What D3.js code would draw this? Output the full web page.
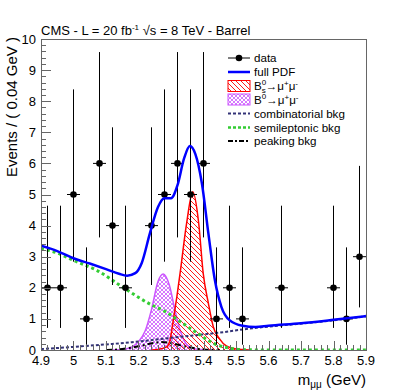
<!DOCTYPE html>
<html>
<head>
<meta charset="utf-8">
<script src="https://cdn.jsdelivr.net/npm/d3@7"></script>
<style>
  body { margin: 0; background: #fff; }
  svg { display: block; font-family: "Liberation Sans", Arial, sans-serif; }
</style>
</head>
<body>
<svg id="chart" width="407" height="391"></svg>
<script>
// data points (bin centres, counts, poisson errors)
var dataX = [4.92, 4.96, 5.00, 5.04, 5.08, 5.12, 5.16, 5.24, 5.28, 5.32, 5.36, 5.40, 5.44, 5.48, 5.52, 5.64, 5.80, 5.84, 5.88];
var dataN = [2, 2, 5, 1, 6, 4, 2, 4, 5, 6, 5, 6, 1, 2, 1, 2, 2, 1, 3];
var errLo = [1.29, 1.29, 2.16, 0.83, 2.38, 1.91, 1.29, 1.91, 2.16, 2.38, 2.16, 2.38, 0.83, 1.29, 0.83, 1.29, 1.29, 0.83, 1.63];
var errHi = [2.64, 2.64, 3.38, 2.30, 3.58, 3.16, 2.64, 3.16, 3.38, 3.58, 3.38, 3.58, 2.30, 2.64, 2.30, 2.64, 2.64, 2.30, 2.92];

// curves
var fullX = [4.9, 4.95, 5.0, 5.05, 5.1, 5.14, 5.165, 5.19, 5.21, 5.235, 5.26, 5.28, 5.30, 5.32, 5.34, 5.358, 5.375, 5.395, 5.415, 5.435, 5.455, 5.48, 5.52, 5.56, 5.6, 5.7, 5.8, 5.9];
var fullY = [3.35, 3.18, 2.95, 2.78, 2.6, 2.45, 2.39, 2.47, 2.8, 3.75, 4.6, 4.88, 4.88, 5.3, 6.15, 6.56, 6.3, 5.36, 3.75, 2.25, 1.39, 0.96, 0.78, 0.74, 0.78, 0.86, 0.97, 1.09];

var bsX = [5.24, 5.26, 5.287, 5.297, 5.307, 5.318, 5.328, 5.348, 5.367, 5.385, 5.399, 5.415, 5.43, 5.45, 5.47, 5.5, 5.54];
var bsY = [0, 0.02, 0.1, 0.32, 0.96, 1.71, 2.47, 4.07, 5.09, 4.1, 2.47, 1.5, 0.75, 0.35, 0.13, 0.03, 0];

var bdX = [5.12, 5.15, 5.18, 5.2, 5.22, 5.24, 5.26, 5.276, 5.295, 5.312, 5.328, 5.348, 5.37, 5.4, 5.43];
var bdY = [0, 0.02, 0.1, 0.27, 0.6, 1.3, 2.2, 2.44, 2.08, 1.29, 0.64, 0.18, 0.04, 0.01, 0];

var combX = [4.9, 5.0, 5.1, 5.18, 5.29, 5.37, 5.45, 5.55, 5.65, 5.76, 5.9];
var combY = [0.03, 0.1, 0.18, 0.25, 0.38, 0.47, 0.56, 0.7, 0.8, 0.91, 1.08];

var semiX = [4.9, 4.95, 5.0, 5.07, 5.16, 5.24, 5.28, 5.33, 5.38, 5.43, 5.48, 5.53, 5.6, 5.9];
var semiY = [3.26, 3.12, 2.88, 2.57, 1.96, 1.45, 1.25, 0.9, 0.55, 0.22, 0.06, 0.01, 0, 0];

var peakX = [5.1, 5.15, 5.2, 5.25, 5.27, 5.3, 5.35, 5.4, 5.45];
var peakY = [0, 0.03, 0.12, 0.23, 0.26, 0.22, 0.1, 0.02, 0];

var xTicks = [4.9, 5.0, 5.1, 5.2, 5.3, 5.4, 5.5, 5.6, 5.7, 5.8, 5.9];
var xTickLabels = ["4.9", "5", "5.1", "5.2", "5.3", "5.4", "5.5", "5.6", "5.7", "5.8", "5.9"];
var yTicks = [0, 1, 2, 3, 4, 5, 6, 7, 8, 9, 10];

(function () {
    var pl = 41, pr = 366, pt = 39, pb = 350;

    var svg = d3.select("#chart");
    var x = d3.scaleLinear().domain([4.9, 5.9]).range([pl, pr]);
    var y = d3.scaleLinear().domain([0, 10]).range([pb, pt]);

    var defs = svg.append("defs");
    var hatch = defs.append("pattern")
        .attr("id", "hatchRed").attr("patternUnits", "userSpaceOnUse")
        .attr("width", 5).attr("height", 5);
    hatch.append("path")
        .attr("d", "M0,0L5,5M-1,4L1,6M4,-1L6,1")
        .attr("stroke", "#ff0000").attr("stroke-width", 0.9);
    var cross = defs.append("pattern")
        .attr("id", "hatchViolet").attr("patternUnits", "userSpaceOnUse")
        .attr("width", 4).attr("height", 4);
    cross.append("path")
        .attr("d", "M0,0L4,4M-1,3L1,5M3,-1L5,1M0,4L4,0M-1,1L1,-1M3,5L5,3")
        .attr("stroke", "#cc55ff").attr("stroke-width", 0.8);

    defs.append("clipPath").attr("id", "plotClip")
        .append("rect").attr("x", pl).attr("y", pt)
        .attr("width", pr - pl).attr("height", pb - pt);

    var plot = svg.append("g").attr("clip-path", "url(#plotClip)");

    function pts(xs, ys) {
        return xs.map(function (d, i) { return [d, ys[i]]; });
    }
    var line = d3.line()
        .x(function (d) { return x(d[0]); })
        .y(function (d) { return y(d[1]); })
        .curve(d3.curveMonotoneX);
    var area = d3.area()
        .x(function (d) { return x(d[0]); })
        .y0(y(0))
        .y1(function (d) { return y(d[1]); })
        .curve(d3.curveMonotoneX);

    // signal shapes
    plot.append("path").attr("d", area(pts(bdX, bdY)))
        .attr("fill", "url(#hatchViolet)");
    plot.append("path").attr("d", line(pts(bdX, bdY)))
        .attr("fill", "none").attr("stroke", "#cc55ff").attr("stroke-width", 1.5);
    plot.append("path").attr("d", area(pts(bsX, bsY)))
        .attr("fill", "url(#hatchRed)");
    plot.append("path").attr("d", line(pts(bsX, bsY)))
        .attr("fill", "none").attr("stroke", "#ff0000").attr("stroke-width", 1.5);

    // background components
    plot.append("path").attr("d", line(pts(peakX, peakY)))
        .attr("fill", "none").attr("stroke", "#000")
        .attr("stroke-width", 2).attr("stroke-dasharray", "6,3,2,3");
    plot.append("path").attr("d", line(pts(combX, combY)))
        .attr("fill", "none").attr("stroke", "#333377")
        .attr("stroke-width", 2).attr("stroke-dasharray", "3,2");
    plot.append("path").attr("d", line(pts(semiX, semiY)))
        .attr("fill", "none").attr("stroke", "#33cc33")
        .attr("stroke-width", 3).attr("stroke-dasharray", "3,3");

    // data
    var g = plot.append("g").attr("stroke", "#000").attr("stroke-width", 1);
    dataX.forEach(function (d, i) {
        var n = dataN[i];
        g.append("line").attr("x1", x(d)).attr("x2", x(d))
            .attr("y1", y(n - errLo[i])).attr("y2", y(n + errHi[i]));
        g.append("line").attr("x1", x(d - 0.02)).attr("x2", x(d + 0.02))
            .attr("y1", y(n)).attr("y2", y(n));
        g.append("circle").attr("cx", x(d)).attr("cy", y(n)).attr("r", 3.3)
            .attr("fill", "#000").attr("stroke", "none");
    });

    plot.append("path").attr("d", line(pts(fullX, fullY)))
        .attr("fill", "none").attr("stroke", "#0000ff").attr("stroke-width", 2.5);

    // frame and ticks
    svg.append("rect").attr("x", pl + 0.5).attr("y", pt + 0.5)
        .attr("width", pr - pl).attr("height", pb - pt)
        .attr("fill", "none").attr("stroke", "#666").attr("stroke-width", 1);

    var ticks = svg.append("g").attr("stroke", "#666").attr("stroke-width", 1);
    d3.range(0, 10.01, 0.2).forEach(function (v) {
        var major = Math.abs(v - Math.round(v)) < 1e-6;
        ticks.append("line").attr("x1", pl).attr("x2", pl + (major ? 10 : 5))
            .attr("y1", Math.round(y(v)) + 0.5).attr("y2", Math.round(y(v)) + 0.5);
    });
    d3.range(4.9, 5.901, 0.02).forEach(function (v) {
        var k = Math.round((v - 4.9) / 0.02);
        var len = k % 5 === 0 ? 9 : 5;
        ticks.append("line").attr("x1", Math.round(x(v)) + 0.5).attr("x2", Math.round(x(v)) + 0.5)
            .attr("y1", pb).attr("y2", pb - len);
    });

    svg.append("g").selectAll("text").data(yTicks).join("text")
        .attr("x", 36).attr("y", function (d) { return y(d) + 4.5; })
        .attr("text-anchor", "end").attr("font-size", 13).text(function (d) { return d; });
    svg.append("g").selectAll("text").data(xTicks).join("text")
        .attr("x", function (d) { return x(d); }).attr("y", 365)
        .attr("text-anchor", "middle").attr("font-size", 13)
        .text(function (d, i) { return xTickLabels[i]; });

    // axis titles
    var xt = svg.append("text").attr("x", 366).attr("y", 385)
        .attr("text-anchor", "end").attr("font-size", 15);
    xt.append("tspan").text("m");
    xt.append("tspan").attr("font-size", 10).attr("dy", 3).text("μμ");
    xt.append("tspan").attr("dy", -3).text(" (GeV)");

    svg.append("text")
        .attr("transform", "translate(17,37) rotate(-90)")
        .attr("text-anchor", "end").attr("font-size", 15)
        .text("Events / ( 0.04 GeV )");

    var title = svg.append("text").attr("x", 41).attr("y", 35).attr("font-size", 13);
    title.append("tspan").text("CMS - L = 20 fb");
    title.append("tspan").attr("font-size", 8).attr("dy", -5).text("-1");
    title.append("tspan").attr("dy", 5).text(" √s = 8 TeV - Barrel");

    // legend
    var lg = svg.append("g").attr("font-size", 11.6);
    var lx0 = 228, lx1 = 250, tx = 254;
    var rows = [58, 72, 86, 99.5, 113.5, 127.5, 141];
    function label(i, parts) {
        var t = lg.append("text").attr("x", tx).attr("y", rows[i] + 4);
        parts.forEach(function (p) {
            t.append("tspan").attr("font-size", p[1] ? 8 : null)
                .attr("dy", p[2] || null).attr("dx", p[3] || null).text(p[0]);
        });
    }
    lg.append("line").attr("x1", lx0).attr("x2", lx1).attr("y1", rows[0]).attr("y2", rows[0])
        .attr("stroke", "#000");
    lg.append("circle").attr("cx", (lx0 + lx1) / 2).attr("cy", rows[0]).attr("r", 3.3);
    label(0, [["data"]]);
    lg.append("line").attr("x1", lx0).attr("x2", lx1).attr("y1", rows[1]).attr("y2", rows[1])
        .attr("stroke", "#0000ff").attr("stroke-width", 2.5);
    label(1, [["full PDF"]]);
    lg.append("rect").attr("x", lx0).attr("y", rows[2] - 5.5).attr("width", lx1 - lx0).attr("height", 11)
        .attr("fill", "url(#hatchRed)").attr("stroke", "#ff0000");
    label(2, [["B"], ["0", 1, -5], ["s", 1, 8, -4.5], ["→μ", 0, -3], ["+", 1, -4], ["μ", 0, 4], ["-", 1, -4]]);
    lg.append("rect").attr("x", lx0).attr("y", rows[3] - 5.5).attr("width", lx1 - lx0).attr("height", 11)
        .attr("fill", "url(#hatchViolet)").attr("stroke", "#cc55ff");
    label(3, [["B"], ["0", 1, -5], ["→μ", 0, 5], ["+", 1, -4], ["μ", 0, 4], ["-", 1, -4]]);
    lg.append("line").attr("x1", lx0).attr("x2", lx1).attr("y1", rows[4]).attr("y2", rows[4])
        .attr("stroke", "#333377").attr("stroke-width", 2).attr("stroke-dasharray", "3,2");
    label(4, [["combinatorial bkg"]]);
    lg.append("line").attr("x1", lx0).attr("x2", lx1).attr("y1", rows[5]).attr("y2", rows[5])
        .attr("stroke", "#33cc33").attr("stroke-width", 2.5).attr("stroke-dasharray", "3,2");
    label(5, [["semileptonic bkg"]]);
    lg.append("line").attr("x1", lx0).attr("x2", lx1).attr("y1", rows[6]).attr("y2", rows[6])
        .attr("stroke", "#000").attr("stroke-width", 2).attr("stroke-dasharray", "5,2,2,2");
    label(6, [["peaking bkg"]]);
})();
</script>
</body>
</html>
